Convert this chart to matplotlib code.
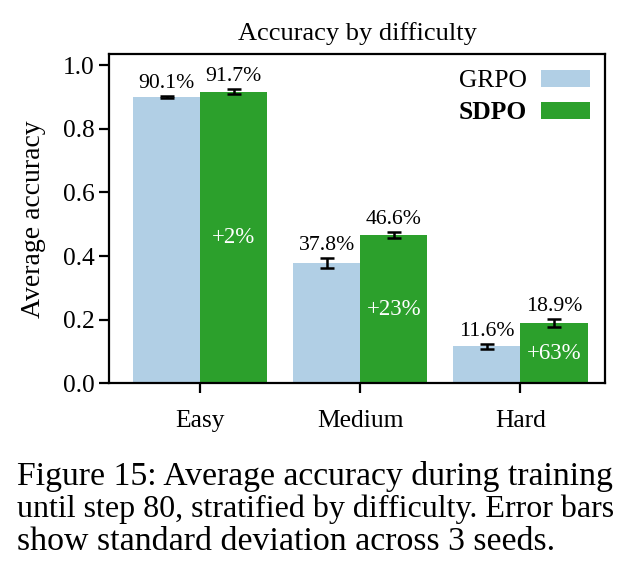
import numpy as np
import matplotlib
matplotlib.use("Agg")
import matplotlib.pyplot as plt

plt.rcParams['font.family'] = ['Liberation Serif', 'DejaVu Serif']

difficulty = ['Easy', 'Medium', 'Hard']
grpo = [0.901, 0.378, 0.116]
grpo_err = [0.003, 0.016, 0.008]
sdpo = [0.917, 0.466, 0.189]
sdpo_err = [0.008, 0.009, 0.012]
gain = ['+2%', '+23%', '+63%']

caption = ["Figure 15: Average accuracy during training",
           "until step 80, stratified by difficulty. Error bars",
           "show standard deviation across 3 seeds."]

fig = plt.figure(figsize=(6.33, 5.71), dpi=100)
ax = fig.add_axes([0.172, 0.329, 0.784, 0.576])

x = np.arange(len(difficulty))
w = 0.42
err_kw = dict(elinewidth=1.8, capthick=1.8, ecolor='black')
ax.bar(x - w/2, grpo, w, yerr=grpo_err, capsize=5, color='#b1cfe5',
       label='GRPO', error_kw=err_kw)
ax.bar(x + w/2, sdpo, w, yerr=sdpo_err, capsize=5, color='#2ca02c',
       label='SDPO', error_kw=err_kw)

# value labels above bars
for i in range(len(x)):
    ax.text(x[i] - w/2, grpo[i] + grpo_err[i] + 0.01, '%.1f%%' % (grpo[i]*100),
            ha='center', va='bottom', fontsize=15.7)
    ax.text(x[i] + w/2, sdpo[i] + sdpo_err[i] + 0.01, '%.1f%%' % (sdpo[i]*100),
            ha='center', va='bottom', fontsize=15.7)
    # relative improvement inside sdpo bar
    ax.text(x[i] + w/2, sdpo[i]/2, gain[i], ha='center', va='center',
            fontsize=16.5, color='white')

ax.set_xlim(-0.57, 2.53)
ax.set_ylim(0, 1.035)
ax.set_xticks(x)
ax.set_xticklabels(difficulty)
ax.set_yticks([0, 0.2, 0.4, 0.6, 0.8, 1.0])
ax.set_ylabel('Average accuracy', fontsize=20, labelpad=12)
ax.set_title('Accuracy by difficulty', fontsize=19, pad=10)
ax.tick_params(labelsize=18.4, length=7, width=1.6)
ax.tick_params(axis='x', pad=12)
for s in ax.spines.values():
    s.set_linewidth(1.6)

leg = ax.legend(loc='upper right', frameon=False, fontsize=18.4, markerfirst=False,
                handlelength=1.9, handleheight=0.65, labelspacing=0.35,
                handletextpad=0.55, borderaxespad=0.2)
leg.get_texts()[1].set_fontweight('bold')

# caption: first two lines are justified to the same width in the original
renderer = fig.canvas.get_renderer()
target = 596
for i, line in enumerate(caption):
    t = fig.text(0.027, 1 - (476 + 33*i)/571, line, fontsize=24.4, va='center', ha='left')
    if i < 2:
        wpx = t.get_window_extent(renderer).width
        t.set_fontsize(24.4 * target / wpx)

fig.savefig('out.png', dpi=100)
